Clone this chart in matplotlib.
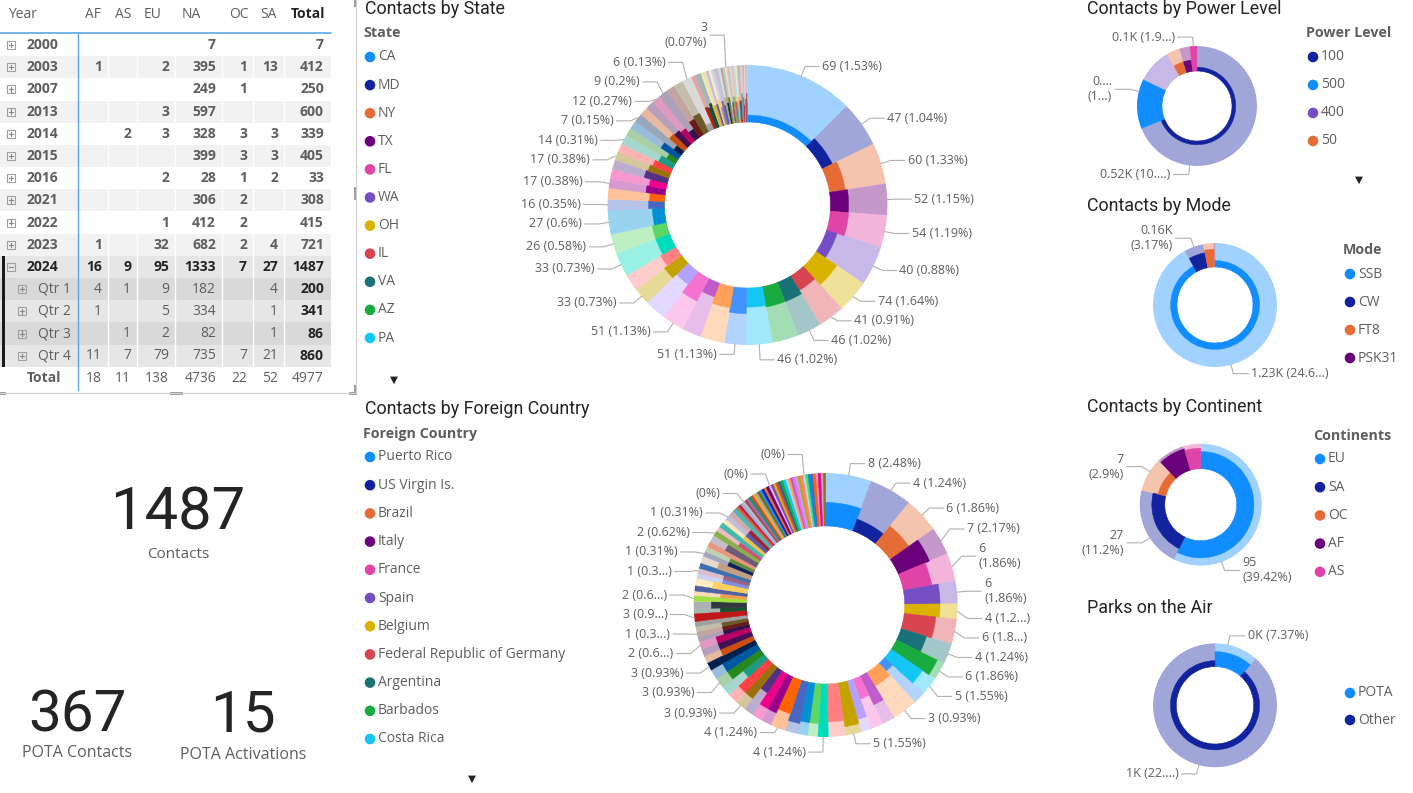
import matplotlib
matplotlib.use("Agg")
import matplotlib.pyplot as plt
import numpy as np
from matplotlib.colors import to_rgb
from matplotlib.patches import Circle, Rectangle

W, H = 1413, 793

INK = "#252423"
GREY = "#605e5c"
LEADER = "#b3b0ad"
BODY = ["Open Sans", "DejaVu Sans"]
HEAD = ["Roboto", "DejaVu Sans"]
SYM = ["DejaVu Sans"]

PALETTE = ["#118DFF", "#12239E", "#E66C37", "#6B007B", "#E044A7", "#744EC2", "#D9B300", "#D64550",
           "#197278", "#1AAB40", "#15C6F4", "#4092FF", "#FFA058", "#BE5DC9", "#F472D0", "#B5A1FF",
           "#C4A200", "#FF8080", "#00DBBC", "#5BD667", "#0091D5", "#4668C5", "#FF6300", "#99008A",
           "#EC008C", "#533285", "#99700A", "#FF4141", "#1F9A85", "#25891C", "#0057A2", "#002050",
           "#C94F0F", "#450F54", "#B60064", "#34124F", "#6A1C14", "#6B5A2A", "#A0A0A0", "#C01818",
           "#1A5030", "#303840", "#A0E040", "#F0A050", "#5060A0", "#FFD060", "#8090E0", "#A06080",
           "#3A6FB0", "#C0A080", "#102060", "#5B8C3A", "#E9967A", "#6C5B7B", "#88B04B", "#D65076",
           "#45B8AC", "#EFC050", "#5B5EA6", "#9B2335", "#55B4B0", "#E15D44", "#BC243C", "#98B4D4",
           "#6B5B95", "#955251", "#B565A7", "#009B77", "#DD4124", "#D8AE47", "#1C1C3C", "#7F6A00"]

# ---- table: contacts per year / quarter and continent
row_labels = ["2000", "2003", "2007", "2013", "2014", "2015", "2016", "2021", "2022", "2023", "2024",
              "Qtr 1", "Qtr 2", "Qtr 3", "Qtr 4"]
continents = ["AF", "AS", "EU", "NA", "OC", "SA"]
af = [None, 1, None, None, None, None, None, None, None, 1, 16, 4, 1, None, 11]
as_ = [None, None, None, None, 2, None, None, None, None, None, 9, 1, None, 1, 7]
eu = [None, 2, None, 3, 3, None, 2, None, 1, 32, 95, 9, 5, 2, 79]
na = [7, 395, 249, 597, 328, 399, 28, 306, 412, 682, 1333, 182, 334, 82, 735]
oc = [None, 1, 1, None, 3, 3, 1, 2, 2, 2, 7, None, None, None, 7]
sa = [None, 13, None, None, 3, 3, 2, None, None, 4, 27, 4, 1, 1, 21]
row_total = [7, 412, 250, 600, 339, 405, 33, 308, 415, 721, 1487, 200, 341, 86, 860]
col_total = [18, 11, 138, 4736, 22, 52, 4977]

# ---- KPI cards
kpi_contacts = 1487
kpi_pota_contacts = 367
kpi_pota_activations = 15

# ---- states: all-time contacts (slice size) and 2024 contacts (inner ring, labels)
state_names = ["CA", "MD", "NY", "TX", "FL", "WA", "OH", "IL", "VA", "AZ", "PA"]
state_total = [567, 239, 214, 164, 167, 208, 170, 138, 126, 138, 137,
               113, 126, 101, 113, 113, 88, 88, 126, 101, 126,
               57, 57, 50, 50, 50, 44, 44, 50, 44, 44, 44, 44, 44, 44, 50, 44, 50, 50,
               20, 16, 16, 13, 16, 13, 13, 13, 12, 12, 13, 11, 11, 12, 11, 11, 11, 9, 9, 8,
               8, 8, 7, 7, 5, 5, 4, 3]
state_2024 = [69, 47, 60, 52, 54, 40, 74, 41, 46, 50, 46,
              51, 47, 26, 51, 32, 33, 27, 33, 26, 27,
              16, 15, 17, 15, 21, 17, 15, 14, 8, 16, 7, 15, 14, 12, 9, 14, 18, 6,
              8, 6, 7, 5, 6, 5, 6, 4, 5, 4, 6, 4, 5, 3, 4, 5, 4, 3, 4, 3,
              3, 4, 3, 2, 2, 2, 2, 1]
state_labeled = [0, 1, 2, 3, 4, 5, 6, 7, 8, 10, 11, 14, 16, 18, 19, 20, 21, 23, 26, 28, 31, 34, 35, 38, 52]
state_wrapped = [52]

# ---- foreign countries
foreign_names = ["Puerto Rico", "US Virgin Is.", "Brazil", "Italy", "France", "Spain", "Belgium",
                 "Federal Republic of Germany", "Argentina", "Barbados", "Costa Rica"]
foreign_total = [18, 17, 14, 11, 11, 9, 6, 10, 8, 7, 7,
                 5, 10, 5, 5, 4, 6, 7, 4, 4, 4, 5, 6, 4, 4, 4, 4, 4, 4, 4, 4, 3, 3, 3, 3,
                 2, 2, 2, 2, 3,
                 2, 3, 2, 2, 2, 3, 2, 2, 2, 3, 2, 2, 2, 3, 2,
                 2, 2, 2, 2, 2, 2,
                 1, 1, 1, 1,
                 1, 1, 1, 1, 1, 1, 1, 1, 1, 1, 1, 1, 1, 1, 1, 1, 1,
                 1, 1, 1, 1, 1, 1, 1, 1, 1, 1, 1, 1, 1, 1, 1, 1, 1]
foreign_2024 = [8, 4, 6, 7, 6, 6, 4, 6, 4, 6, 5,
                1, 3, 3, 2, 3, 5, 5, 4, 3, 3, 4, 4, 3, 3, 2, 3, 3, 2, 3, 3, 3, 2, 2, 2,
                1, 1, 1, 2, 3,
                1, 2, 2, 1, 2, 2, 1, 1, 2, 2, 1, 1, 2, 2, 2,
                1, 2, 1, 1, 1, 2,
                1, 1, 1, 0,
                1, 1, 1, 1, 1, 0, 1, 1, 1, 1, 1, 0, 1, 1, 1, 1, 1,
                1, 0, 1, 1, 1, 1, 1, 1, 0, 1, 1, 1, 1, 0, 1, 0, 1]
foreign_labeled = [0, 1, 2, 3, 4, 5, 6, 7, 8, 9, 10, 12, 16, 18, 22, 26, 29, 31, 34, 36, 39, 42,
                   47, 50, 54, 58, 64, 76, 90]
foreign_short = [6, 7, 34, 36, 39, 42, 47]
foreign_wrapped = [4, 5]

# ---- power level
power_levels = ["100", "500", "400", "50", "25", "1000"]
power_total = [3428, 664, 470, 180, 138, 97]
power_2024 = [520, 664, 0, 81, 62, 97]
power_labels = ["0.52K (10....)", "0....\n(1...)", "0.1K (1.9...)"]

# ---- mode
modes = ["SSB", "CW", "FT8", "PSK31"]
mode_total = [4576, 249, 138, 14]
mode_2024 = [1227, 158, 102, 0]
mode_labels = ["1.23K (24.6...)", "0.16K\n(3.17%)"]

# ---- continents (foreign)
cont_names = ["EU", "SA", "OC", "AF", "AS"]
cont_total = [138, 52, 22, 18, 11]
cont_2024 = [95, 27, 7, 16, 9]

# ---- parks on the air
pota_names = ["POTA", "Other"]
pota_total = [571, 4406]
pota_2024 = [367, 1120]
pota_labels = ["0K (7.37%)", "1K (22....)"]


def tint(c, a=0.6):
    r, g, b = to_rgb(c)
    return (r + (1 - r) * a, g + (1 - g) * a, b + (1 - b) * a)


def pct_label(v, base, short=False, wrap=False):
    p = f"{round(v / base * 100, 2):g}"
    par = f"({p[:3]}...)" if short else f"({p}%)"
    if not v:
        return par
    return f"{v}" + ("\n" if wrap else " ") + par


fig = plt.figure(figsize=(W / 100, H / 100), dpi=100)
fig.patch.set_facecolor("white")
ov = fig.add_axes([0, 0, 1, 1], zorder=5)
ov.set_xlim(0, W)
ov.set_ylim(H, 0)
ov.set_axis_off()


def draw_donut(cx, cy, R, hole, totals, year_vals, colors):
    ax = fig.add_axes([(cx - R) / W, 1 - (cy + R) / H, 2 * R / W, 2 * R / H], projection="polar", zorder=1)
    ax.set_theta_zero_location("N")
    ax.set_theta_direction(-1)
    ax.set_ylim(0, R)
    ax.set_axis_off()
    totals = np.asarray(totals, dtype=float)
    share = np.asarray(year_vals, dtype=float) / totals
    edges = np.concatenate([[0.0], np.cumsum(totals)]) / totals.sum() * 2 * np.pi
    start, width = edges[:-1], np.diff(edges)
    ring = R - hole
    light = [tint(c) for c in colors]
    ax.bar(start, ring, width=width, bottom=hole, align="edge", color=light, edgecolor=light, linewidth=0.3)
    keep = share > 0
    dark = [c for c, k in zip(colors, keep) if k]
    ax.bar(start[keep], share[keep] * ring, width=width[keep], bottom=hole, align="edge",
           color=dark, edgecolor=dark, linewidth=0.3)
    return np.degrees(start + width / 2)


def draw_labels(cx, cy, R, angles, texts, elbow=10, hseg=14, fs=9, line_h=15.5, pad=4):
    items = []
    for a, t in zip(angles, texts):
        r = np.radians(a)
        s, c = np.sin(r), -np.cos(r)
        items.append({"t": t, "x0": cx + R * s, "y0": cy + R * c,
                      "x1": cx + (R + elbow) * s, "y1": cy + (R + elbow) * c,
                      "right": (a % 360) < 180, "h": line_h * (t.count("\n") + 1)})
    for side in (True, False):
        grp = sorted([d for d in items if d["right"] == side], key=lambda d: d["y1"])
        ys = [d["y1"] for d in grp]
        for _ in range(400):
            moved = False
            for i in range(1, len(grp)):
                need = (grp[i - 1]["h"] + grp[i]["h"]) / 2 + pad
                gap = ys[i] - ys[i - 1]
                if gap < need - 0.01:
                    shift = (need - gap) / 2
                    ys[i - 1] -= shift
                    ys[i] += shift
                    moved = True
            if not moved:
                break
        for d, y in zip(grp, ys):
            d["y"] = y
    for d in items:
        sgn = 1 if d["right"] else -1
        x2 = d["x1"] + sgn * hseg
        ov.plot([d["x0"], d["x1"], x2], [d["y0"], d["y"], d["y"]], color=LEADER, lw=0.8)
        ha = "left" if d["right"] else "right"
        ov.text(x2 + sgn * 3, d["y"], d["t"], ha=ha, va="center", multialignment=ha, fontsize=fs,
                color=GREY, family=BODY, linespacing=1.2)


def draw_legend(x, y0, dy, names, colors, title=None, title_y=None, arrow=None, fs=10):
    if title:
        ov.text(x - 7, title_y, title, ha="left", va="center", fontsize=10.3, fontweight="bold",
                color=GREY, family=BODY)
    for i, (n, c) in enumerate(zip(names, colors)):
        y = y0 + i * dy
        ov.add_patch(Circle((x, y), 5.3, color=c, lw=0))
        ov.text(x + 8, y, n, ha="left", va="center", fontsize=fs, color=GREY, family=BODY)
    if arrow:
        ov.text(arrow[0], arrow[1], "\u25BC", ha="center", va="center", fontsize=7.5, color=INK, family=SYM)


def title(x, y, text):
    ov.text(x, y, text, ha="left", va="baseline", fontsize=12.9, color=INK, family=HEAD)


def colors_for(n):
    return [PALETTE[i % len(PALETTE)] for i in range(n)]


# ---------------- table ----------------
col_bounds = [78, 108, 137, 175, 222, 253, 284, 330]
row_y0, row_dy = 45, 22.2
ov.text(8, 14, "Year", ha="left", va="center", fontsize=10, color=GREY, family=BODY)
for j, h in enumerate(continents + ["Total"]):
    bold = h == "Total"
    ov.text(col_bounds[j] + 7, 14, h, ha="left", va="center", fontsize=10, family=BODY,
            color=INK if bold else GREY, fontweight="bold" if bold else "normal")


def icon(x, y, minus=False):
    ov.add_patch(Rectangle((x - 4, y - 4), 8, 8, fill=False, ec="#a19f9d", lw=0.8))
    ov.plot([x - 2.2, x + 2.2], [y, y], color="#8a8886", lw=0.8)
    if not minus:
        ov.plot([x, x], [y - 2.2, y + 2.2], color="#8a8886", lw=0.8)


cells = [af, as_, eu, na, oc, sa, row_total]
q_count = 0
for i, lab in enumerate(row_labels):
    y = row_y0 + i * row_dy
    is_q = lab.startswith("Qtr")
    is_sel = lab == "2024"
    if is_q:
        bg = "#d9d9d9" if q_count % 2 == 0 else "#e6e6e6"
        q_count += 1
    elif is_sel:
        bg = "#e6e6e6"
    else:
        bg = "#f2f2f2" if i % 2 else "#ffffff"
    ov.add_patch(Rectangle((0, y - row_dy / 2), 331, row_dy, color=bg, lw=0))
    icon(22 if is_q else 11, y, minus=is_sel)
    ov.text(38 if is_q else 27, y, lab, ha="left", va="center", fontsize=10, family=BODY,
            color=INK if is_sel else GREY, fontweight="normal" if is_q else "bold")
    for j, col in enumerate(cells):
        v = col[i]
        if v is None:
            continue
        last = j == len(cells) - 1
        bold = (not is_q) or last
        color = INK if (is_sel or (is_q and last)) else GREY
        ov.text(col_bounds[j + 1] - 6, y, str(v), ha="right", va="center", fontsize=10, family=BODY,
                color=color, fontweight="bold" if bold else "normal")

y_tot = row_y0 + len(row_labels) * row_dy
ov.text(27, y_tot, "Total", ha="left", va="center", fontsize=10, family=BODY, color=GREY, fontweight="bold")
for j, v in enumerate(col_total):
    ov.text(col_bounds[j + 1] - 6, y_tot, str(v), ha="right", va="center", fontsize=10, family=BODY, color=GREY)

for x in col_bounds[1:-1]:
    ov.plot([x, x], [33, y_tot - row_dy / 2], color="white", lw=1)
sel = row_labels.index("2024")
ov.add_patch(Rectangle((2, row_y0 + sel * row_dy - row_dy / 2), 2.5, 5 * row_dy, color="#1b1a19", lw=0))
ov.plot([0, 331], [33, 33], color="#5aa9e6", lw=1.2)
ov.plot([78, 78], [33, 390], color="#5aa9e6", lw=1.0)
ov.plot([356, 356], [0, 393], color="#d2d0ce", lw=0.8)
ov.plot([0, 356], [393, 393], color="#d2d0ce", lw=0.8)
for rx, ry, rw, rh in [(354, 0, 3, 7), (354, 187, 3, 13), (170, 391.5, 13, 3), (0, 391.5, 6, 3),
                       (349, 391.5, 8, 3), (354, 385, 3, 9)]:
    ov.add_patch(Rectangle((rx, ry), rw, rh, color="#a19f9d", lw=0))

# ---------------- KPI cards ----------------
ov.text(178, 530, str(kpi_contacts), ha="center", va="baseline", fontsize=43, color=INK, family=HEAD)
ov.text(178, 555, "Contacts", ha="center", va="center", fontsize=11, color=GREY, family=BODY)
ov.text(77, 731, str(kpi_pota_contacts), ha="center", va="baseline", fontsize=42, color=INK, family=HEAD)
ov.text(77, 753, "POTA Contacts", ha="center", va="center", fontsize=11.5, color=GREY, family=BODY)
ov.text(243, 731, str(kpi_pota_activations), ha="center", va="baseline", fontsize=42, color=INK, family=HEAD)
ov.text(243, 755, "POTA Activations", ha="center", va="center", fontsize=11.5, color=GREY, family=BODY)

# ---------------- Contacts by State ----------------
title(365, 14, "Contacts by State")
st_colors = colors_for(len(state_total))
draw_legend(370, 57, 28.1, state_names, st_colors[:len(state_names)], "State", 33, arrow=(394, 380))
mids = draw_donut(747.5, 205, 140, 83, state_total, state_2024, st_colors)
base = sum(state_total)
draw_labels(747.5, 205, 140, [mids[i] for i in state_labeled],
            [pct_label(state_2024[i], base, wrap=i in state_wrapped) for i in state_labeled])

# ---------------- Contacts by Foreign Country ----------------
title(365, 414, "Contacts by Foreign Country")
fc_colors = colors_for(len(foreign_total))
draw_legend(370, 457, 28.2, foreign_names, fc_colors[:len(foreign_names)], "Foreign Country", 434,
            arrow=(472, 779))
mids = draw_donut(825.7, 605, 132, 79, foreign_total, foreign_2024, fc_colors)
base = sum(foreign_total)
draw_labels(825.7, 605, 132, [mids[i] for i in foreign_labeled],
            [pct_label(foreign_2024[i], base, short=i in foreign_short, wrap=i in foreign_wrapped)
             for i in foreign_labeled])

# ---------------- Contacts by Power Level ----------------
title(1087, 14, "Contacts by Power Level")
pw_colors = ["#12239E", "#118DFF", "#744EC2", "#E66C37", "#6B007B", "#E044A7"]
draw_legend(1313, 57, 28, power_levels[:4], pw_colors[:4], "Power Level", 33, arrow=(1359, 180))
draw_donut(1197, 106, 60, 35, power_total, power_2024, pw_colors)
draw_labels(1197, 106, 60, [187, 284, 356.5], power_labels, elbow=9, hseg=15, pad=2)

# ---------------- Contacts by Mode ----------------
title(1087, 211, "Contacts by Mode")
md_colors = ["#118DFF", "#12239E", "#E66C37", "#6B007B"]
draw_legend(1350, 274, 28, modes, md_colors, "Mode", 250)
draw_donut(1215, 305, 62, 38, mode_total, mode_2024, md_colors)
draw_labels(1215, 305, 62, [165, 340], mode_labels, elbow=9, hseg=15, pad=2)

# ---------------- Contacts by Continent ----------------
title(1087, 412, "Contacts by Continent")
ct_colors = ["#118DFF", "#12239E", "#E66C37", "#6B007B", "#E044A7"]
draw_legend(1320, 459, 28.2, cont_names, ct_colors, "Continents", 436)
draw_donut(1200.7, 504.7, 61, 36, cont_total, cont_2024, ct_colors)
cbase = sum(cont_total)
draw_labels(1200.7, 504.7, 61, [160, 237, 303],
            [pct_label(cont_2024[i], cbase, wrap=True) for i in (0, 1, 2)], elbow=9, hseg=15, pad=2)

# ---------------- Parks on the Air ----------------
title(1087, 613, "Parks on the Air")
pt_colors = ["#118DFF", "#12239E"]
draw_legend(1350, 693, 27, pota_names, pt_colors)
draw_donut(1215, 705.3, 62, 38.7, pota_total, pota_2024, pt_colors)
draw_labels(1215, 705.3, 62, [12, 195], pota_labels, elbow=9, hseg=15, pad=2)

fig.savefig("out.png", dpi=100, facecolor="white")
